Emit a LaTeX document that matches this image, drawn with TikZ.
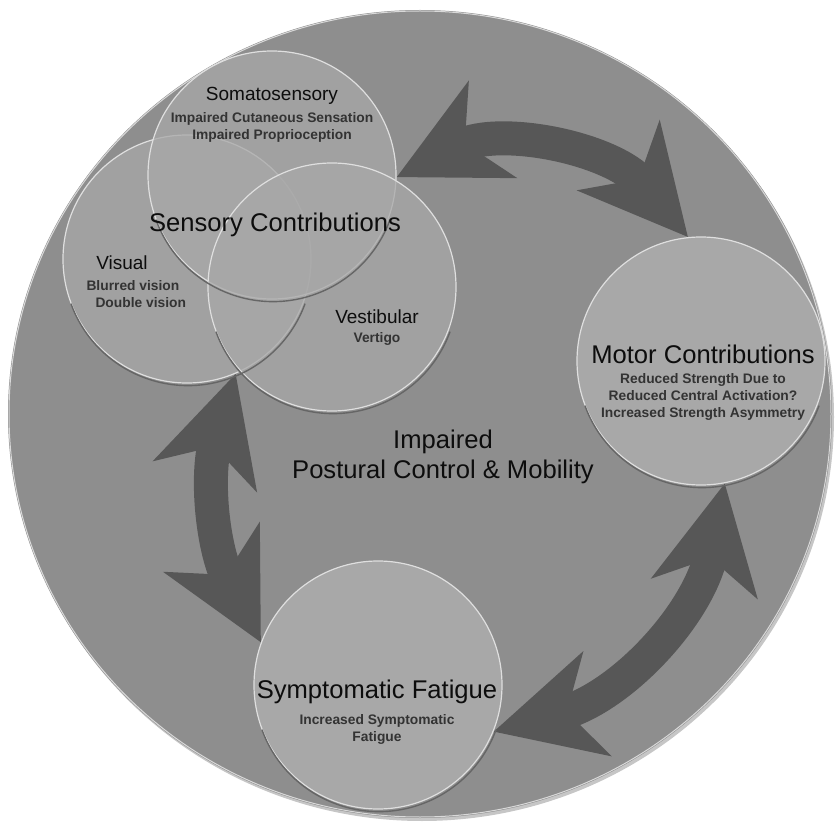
\documentclass[tikz,border=0pt]{standalone}
\usepackage{fontspec}
\setmainfont{Liberation Sans}
\usetikzlibrary{arrows.meta,shadows}

\definecolor{discgray}{gray}{0.555}
\definecolor{bubblegray}{gray}{0.66}
\definecolor{arrowgray}{gray}{0.34}
\definecolor{notegray}{gray}{0.2}

\pgfdeclarelayer{disc}
\pgfdeclarelayer{arrows}
\pgfsetlayers{disc,arrows,main}

\tikzset{
  bubble/.style={circle, minimum size=248pt, inner sep=0pt, fill=bubblegray,
    draw=white!75!gray, line width=1.2pt},
  venn/.style={bubble, fill opacity=0.75},
  rim/.style={black!60, line width=1.4pt},
  title/.style={font=\fontsize{25.6}{30}\selectfont, align=center, text=black!95},
  head/.style={font=\fontsize{19}{22}\selectfont, text=black!95},
  note/.style={font=\bfseries\fontsize{13.8}{17}\selectfont, text=notegray, align=center},
  twoway/.style={arrowgray, line width=34pt,
    {Stealth[length=106pt,width=106pt,inset=30pt]}-{Stealth[length=106pt,width=106pt,inset=30pt]}},
}

\begin{document}
\begin{tikzpicture}[x=1pt, y=1pt]
\useasboundingbox (0,0) rectangle (836,-826);

% big disc behind everything
\begin{pgfonlayer}{disc}
\fill[discgray, drop shadow={shadow xshift=2pt, shadow yshift=-3pt, opacity=0.45}]
  (420,-414) ellipse [x radius=412, y radius=404];
\draw[white!70!gray, line width=1pt] (420,-414) ellipse [x radius=411, y radius=403];
\end{pgfonlayer}

% sensory venn circles
\node[venn] (vis) at (187,-259) {};
\node[venn] (soma) at (272,-175) {};
\node[venn] (vest) at (332,-287) {};

% other contributions
\node[bubble] (motor) at (701,-361) {};
\node[bubble] (fat) at (378,-685) {};

\foreach \c in {vis,soma,vest,motor,fat}
  \draw[rim] ([shift={(1,-2)}]\c.200) arc[start angle=200, end angle=340, radius=124.6];

% labels
\node[head] (somahead) at (272,-96) {Somatosensory};
\node[note] (somanote) at (272,-127) {Impaired Cutaneous Sensation\\Impaired Proprioception};
\node[title] (sensory) at (275,-225) {Sensory Contributions};
\node[head] (vishead) at (122,-263) {Visual};
\node[note, align=left, anchor=west] (visnote) at (83,-294) {Blurred vision\\\hspace*{9pt}Double vision};
\node[head] (vesthead) at (377,-317) {Vestibular};
\node[note] (vestnote) at (377,-339) {Vertigo};

\node[title] (motorhead) at (703,-354) {Motor Contributions};
\node[note] (motornote) at (703,-397) {Reduced Strength Due to\\Reduced Central Activation?\\Increased Strength Asymmetry};

\node[title] (fathead) at (377,-692) {Symptomatic Fatigue};
\node[note] (fatnote) at (377,-729) {Increased Symptomatic\\Fatigue};

\node[title] (impaired) at (443,-457) {Impaired\\Postural Control \& Mobility};

% two-way arrows between the groups
\begin{pgfonlayer}{arrows}
\draw[twoway] (soma.-1) to[bend left=38] (motor.96);
\draw[twoway] (vis.-67) to[bend right=22] (fat.160);
\draw[twoway] (motor.-79) to[bend left=32] (fat.-22);
\end{pgfonlayer}
\end{tikzpicture}
\end{document}
